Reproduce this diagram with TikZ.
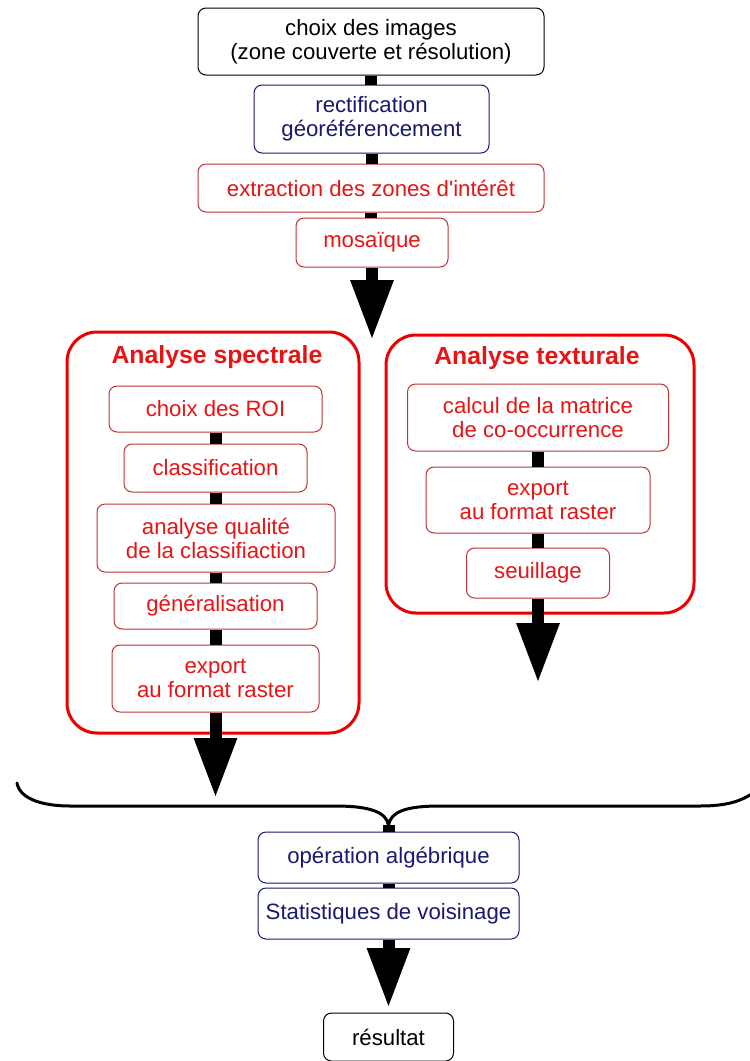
\documentclass[tikz,border=0pt]{standalone}
\usepackage{fontspec}
\setmainfont{Liberation Sans}
\usetikzlibrary{arrows.meta,calc}
\definecolor{txtred}{RGB}{230,20,20}
\definecolor{boxred}{RGB}{190,50,50}
\definecolor{bigred}{RGB}{235,0,0}
\definecolor{navy}{RGB}{25,25,110}
\tikzset{
  box/.style={draw, rounded corners=8pt, line width=1pt, align=center, inner sep=0pt,
    font=\fontsize{22.2}{24}\selectfont},
  blackbox/.style={box, draw=black, text=black},
  navybox/.style={box, draw=navy, text=navy},
  redbox/.style={box, draw=boxred, text=txtred},
  bigbox/.style={draw=bigred, line width=3pt, rounded corners=30pt, inner sep=0pt},
  title/.style={text=txtred, font=\fontsize{24.8}{28}\selectfont\bfseries},
  bar/.style={line width=12pt, black},
  bigarrow/.style={line width=12pt, black, -{Triangle[length=60pt,width=40pt]}},
  brace/.style={line width=3pt, black, line cap=round}
}
\begin{document}
\begin{tikzpicture}[x=1pt,y=-1pt]
\useasboundingbox (0,0) rectangle (750,1061);
% top chain
\node[blackbox, minimum width=346pt, minimum height=67pt] (n1) at (371,41.5) {choix des images\\(zone couverte et résolution)};
\node[navybox, minimum width=235pt, minimum height=68pt] (n2) at (371.5,119) {rectification\\géoréférencement};
\node[redbox, minimum width=346pt, minimum height=48pt] (n3) at (371,188) {extraction des zones d\textquotesingle intérêt};
\node[redbox, minimum width=152pt, minimum height=49pt] (n4) at (372,242.5) {mosaïque};
\coordinate (tip1) at (372,340);
\draw[bar] (n1.south) -- (n1.south |- n2.north);
\draw[bar] (n2.south) -- (n2.south |- n3.north);
\draw[bar] (n3.south) -- (n3.south |- n4.north);
\draw[bigarrow] (n4.south) -- (tip1);
% spectral
\node[bigbox, minimum width=292pt, minimum height=401pt] (S) at (213,532.5) {};
\node[title] (St) at (217,357) {Analyse spectrale};
\node[redbox, minimum width=213pt, minimum height=46pt] (s1) at (215.5,409) {choix des ROI};
\node[redbox, minimum width=183pt, minimum height=48pt] (s2) at (215.5,468) {classification};
\node[redbox, minimum width=238pt, minimum height=68pt] (s3) at (216,538) {analyse qualité\\de la classifiaction};
\node[redbox, minimum width=203pt, minimum height=46pt] (s4) at (215.5,606) {généralisation};
\node[redbox, minimum width=207pt, minimum height=67pt] (s5) at (215.5,678.5) {export\\au format raster};
\coordinate (tip2) at (215.5,798);
\draw[bar] (s1.south) -- (s1.south |- s2.north);
\draw[bar] (s2.south) -- (s2.south |- s3.north);
\draw[bar] (s3.south) -- (s3.south |- s4.north);
\draw[bar] (s4.south) -- (s4.south |- s5.north);
\draw[bigarrow] (s5.south) -- (tip2);
% texture
\node[bigbox, minimum width=308pt, minimum height=278pt] (T) at (540,474) {};
\node[title] (Tt) at (537,358) {Analyse texturale};
\node[redbox, minimum width=261pt, minimum height=67pt] (x1) at (538,417.5) {calcul de la matrice\\de co-occurrence};
\node[redbox, minimum width=224pt, minimum height=66pt] (x2) at (538,500) {export\\au format raster};
\node[redbox, minimum width=143pt, minimum height=50pt] (x3) at (538,573) {seuillage};
\coordinate (tip3) at (538,683);
\draw[bar] (x1.south) -- (x1.south |- x2.north);
\draw[bar] (x2.south) -- (x2.south |- x3.north);
\draw[bigarrow] (x3.south) -- (tip3);
% brace
\coordinate (bt) at (388.5,825);
\draw[brace] (17,783) .. controls (20,800) and (45,806) .. (70,806)
  -- (335,806) .. controls (370,806) and (386,812) .. (bt)
  .. controls (391,812) and (405,806) .. (440,806)
  -- (700,806) .. controls (730,806) and (745,800) .. (760,788);
% bottom
\node[navybox, minimum width=261pt, minimum height=51pt] (b1) at (388.5,857.5) {opération algébrique};
\node[navybox, minimum width=261pt, minimum height=51pt] (b2) at (388.5,913.5) {Statistiques de voisinage};
\node[blackbox, minimum width=130pt, minimum height=48pt] (r) at (388.5,1037) {résultat};
\coordinate (tip4) at (388.5,1008);
\draw[bar] (bt) -- (bt |- b1.north);
\draw[bar] (b1.south) -- (b1.south |- b2.north);
\draw[bigarrow] (b2.south) -- (tip4);
\end{tikzpicture}
\end{document}
